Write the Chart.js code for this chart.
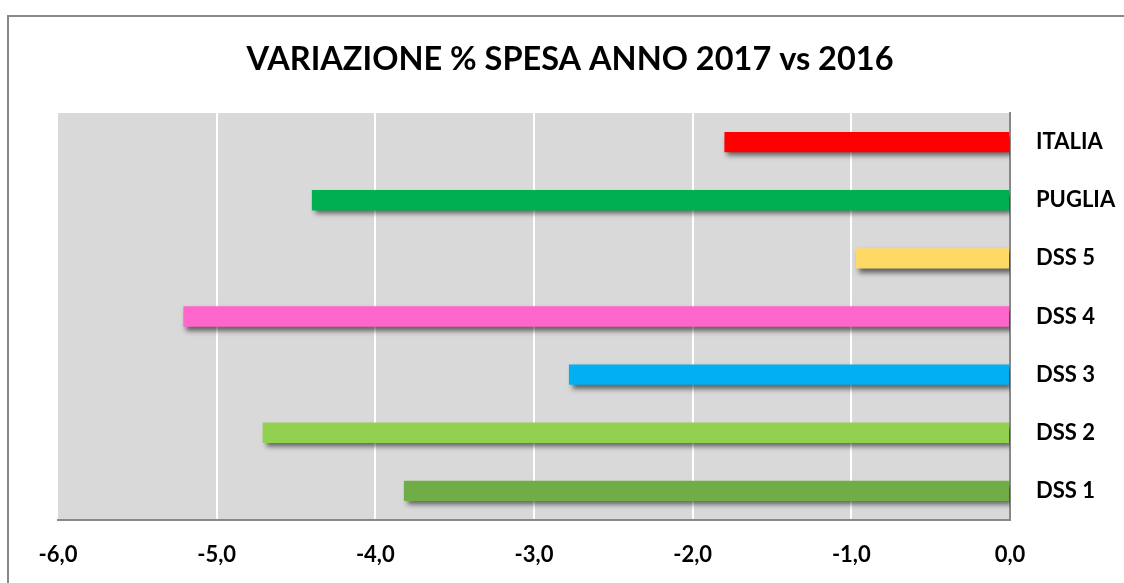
<!DOCTYPE html>
<html>
<head>
<meta charset="utf-8">
<script src="https://cdn.jsdelivr.net/npm/chart.js@4"></script>
<style>
  html, body { margin: 0; padding: 0; background: #fff; }
  #wrap { position: relative; width: 1124px; height: 583px; overflow: hidden; }
  #frame { position: absolute; left: 7px; top: 15px; width: 1200px; height: 700px; border-left: 2px solid #888; border-top: 2px solid #888; pointer-events: none; }
</style>
</head>
<body>
<div id="wrap">
  <canvas id="c" width="1124" height="583"></canvas>
  <div id="frame"></div>
</div>
<script>
const categories = ["ITALIA", "PUGLIA", "DSS 5", "DSS 4", "DSS 3", "DSS 2", "DSS 1"];
const values = [-1.80, -4.40, -0.97, -5.21, -2.78, -4.71, -3.82];
const barColors = ["#ff0000", "#00b050", "#ffd966", "#ff66cc", "#00b0f0", "#92d050", "#70ad47"];
const titleText = "VARIAZIONE % SPESA ANNO 2017 vs 2016";
const xMin = -6, xMax = 0;

const FONT = "Lato, 'Open Sans', sans-serif";

const bgPlugin = {
  id: 'plotBg',
  beforeDraw(chart) {
    const { ctx, chartArea: a } = chart;
    ctx.save();
    ctx.fillStyle = '#d9d9d9';
    ctx.fillRect(a.left, a.top, a.right - a.left, a.bottom - a.top);
    ctx.restore();
  }
};
const shadowPlugin = {
  id: 'barShadow',
  beforeDatasetsDraw(chart) {
    const ctx = chart.ctx;
    ctx.save();
    ctx.shadowColor = 'rgba(0,0,0,0.55)';
    ctx.shadowBlur = 5;
    ctx.shadowOffsetX = 3;
    ctx.shadowOffsetY = 4;
  },
  afterDatasetsDraw(chart) {
    chart.ctx.restore();
  }
};

new Chart(document.getElementById('c'), {
  type: 'bar',
  data: {
    labels: categories,
    datasets: [{
      data: values,
      backgroundColor: barColors,
      borderWidth: 0,
      categoryPercentage: 1,
      barPercentage: 0.35
    }]
  },
  options: {
    indexAxis: 'y',
    responsive: false,
    animation: false,
    layout: { padding: { left: 16, right: 0, top: 0, bottom: 0 } },
    plugins: {
      legend: { display: false },
      tooltip: { enabled: false },
      title: {
        display: true,
        text: titleText,
        color: '#000',
        font: { family: FONT, size: 32.5, weight: 'bold' },
        padding: { top: 40, bottom: 34 }
      }
    },
    scales: {
      x: {
        type: 'linear',
        min: xMin, max: xMax,
        ticks: {
          stepSize: 1,
          color: '#000',
          padding: 22,
          font: { family: FONT, size: 22, weight: 'bold' },
          callback: v => v.toFixed(1).replace('.', ',')
        },
        grid: {
          color: c => (c.tick && (c.tick.value === xMin || c.tick.value === xMax)) ? 'rgba(0,0,0,0)' : '#ffffff',
          lineWidth: 2,
          drawTicks: false
        },
        border: { display: true, color: '#888', width: 2 },
        afterFit(s) { s.height = 63; }
      },
      y: {
        position: 'right',
        ticks: {
          color: '#000',
          padding: 26,
          crossAlign: 'near',
          font: { family: FONT, size: 22, weight: 'bold' }
        },
        grid: { display: false, drawTicks: false },
        border: { display: true, color: '#888', width: 2 },
        afterFit(s) { s.width = 114; }
      },
      spacer: {
        type: 'linear',
        axis: 'y',
        position: 'left',
        min: 0, max: 1,
        ticks: { display: false },
        grid: { display: false, drawTicks: false },
        border: { display: false },
        afterFit(s) { s.width = 42; }
      }
    }
  },
  plugins: [bgPlugin, shadowPlugin]
});
</script>
</body>
</html>
